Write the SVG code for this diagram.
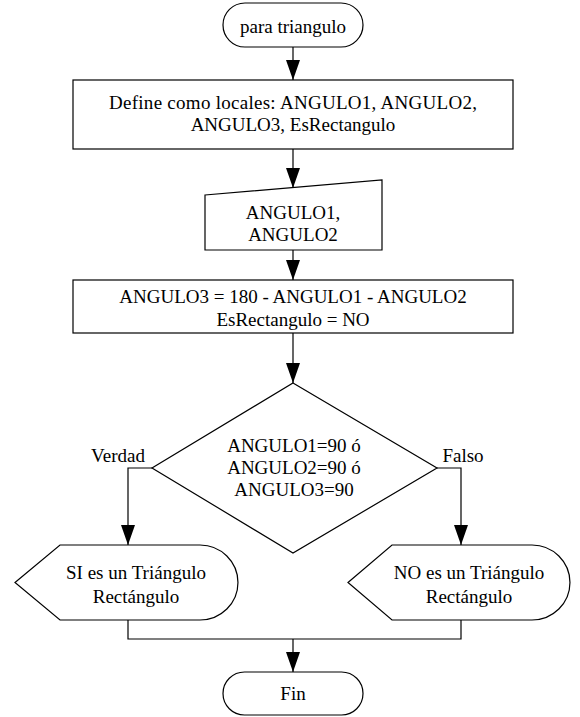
<svg xmlns="http://www.w3.org/2000/svg" width="580" height="717" viewBox="0 0 580 717">
<style>
.s{fill:#fff;stroke:#000;stroke-width:1.2}
.t{font-family:'Liberation Serif','Times New Roman',Times,'DejaVu Serif',serif;font-size:19px;fill:#000;text-anchor:middle}
.l{fill:none;stroke:#000;stroke-width:1.2}
</style>
<defs>
<marker id="a" viewBox="0 0 20 14" refX="20" refY="7" markerWidth="20" markerHeight="14" markerUnits="userSpaceOnUse" orient="auto">
<path d="M0,0 L20,7 L0,14 Z" fill="#000"/>
</marker>
</defs>
<rect width="580" height="717" fill="#fff"/>
<g id="connectors">
<path class="l" d="M293,47 V80" marker-end="url(#a)"/>
<path class="l" d="M293,149 V188" marker-end="url(#a)"/>
<path class="l" d="M293,250 V280" marker-end="url(#a)"/>
<path class="l" d="M293,333 V383" marker-end="url(#a)"/>
<path class="l" d="M152,468 H128 V545" marker-end="url(#a)"/>
<path class="l" d="M437,468 H461 V545" marker-end="url(#a)"/>
<path class="l" d="M128,620 V639 H461 V620"/>
<path class="l" d="M293,639 V672" marker-end="url(#a)"/>
</g>
<g id="start">
<rect class="s" x="223" y="3" width="140" height="44" rx="22" ry="22"/>
<text class="t" x="293" y="33">para triangulo</text>
</g>
<g id="define">
<rect class="s" x="73" y="80" width="440" height="69"/>
<text class="t" x="293" y="109" textLength="368" lengthAdjust="spacing">Define como locales: ANGULO1, ANGULO2,</text>
<text class="t" x="293" y="131">ANGULO3, EsRectangulo</text>
</g>
<g id="input">
<polygon class="s" points="205,195 382,180 382,250 205,250"/>
<text class="t" x="293" y="219">ANGULO1,</text>
<text class="t" x="293" y="241">ANGULO2</text>
</g>
<g id="assign">
<rect class="s" x="73" y="280" width="440" height="53"/>
<text class="t" x="293" y="303">ANGULO3 = 180 - ANGULO1 - ANGULO2</text>
<text class="t" x="293" y="326">EsRectangulo = NO</text>
</g>
<g id="decision">
<polygon class="s" points="293,383 437,468 293,553 152,468"/>
<text class="t" x="294" y="452">ANGULO1=90 ó</text>
<text class="t" x="294" y="474">ANGULO2=90 ó</text>
<text class="t" x="294" y="496">ANGULO3=90</text>
<text class="t" x="118" y="462">Verdad</text>
<text class="t" x="463" y="462">Falso</text>
</g>
<g id="out-si">
<path class="s" d="M15,582.5 L60,545 H200 A38,37.5 0 0 1 200,620 H60 Z"/>
<text class="t" x="136" y="579">SI es un Triángulo</text>
<text class="t" x="136" y="603">Rectángulo</text>
</g>
<g id="out-no">
<path class="s" d="M348,582.5 L392,545 H532 A38,37.5 0 0 1 532,620 H392 Z"/>
<text class="t" x="469" y="579">NO es un Triángulo</text>
<text class="t" x="469" y="603">Rectángulo</text>
</g>
<g id="end">
<rect class="s" x="223" y="672" width="140" height="43" rx="21.5" ry="21.5"/>
<text class="t" x="293" y="700">Fin</text>
</g>
</svg>
